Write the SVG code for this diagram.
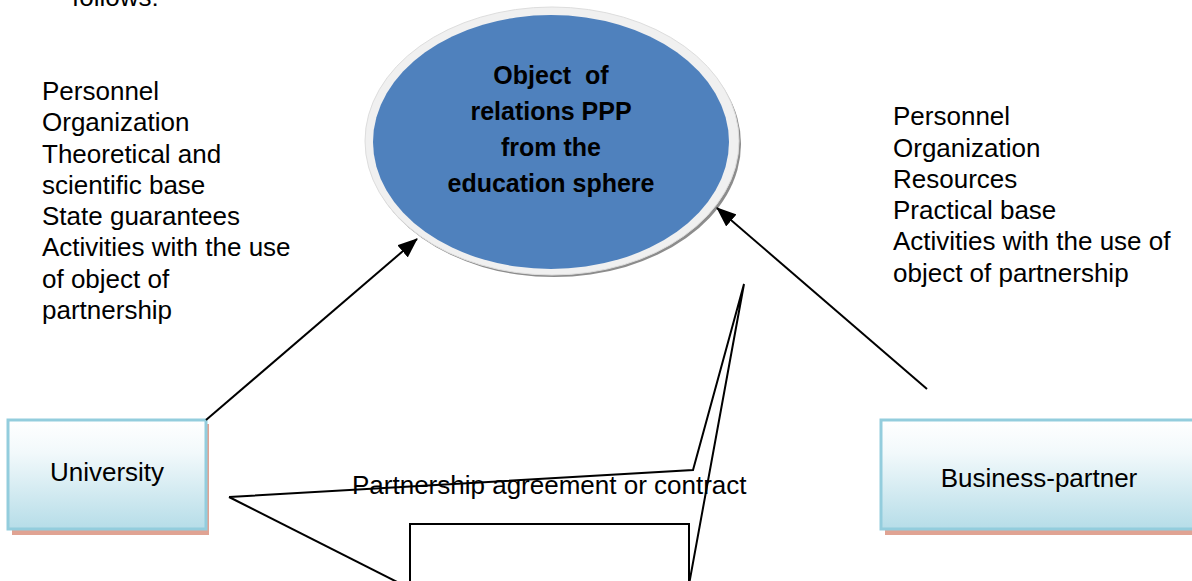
<svg xmlns="http://www.w3.org/2000/svg" width="1192" height="581" viewBox="0 0 1192 581">
<defs>
<linearGradient id="boxg" x1="0" y1="0" x2="0" y2="1">
<stop offset="0" stop-color="#FFFFFF"/>
<stop offset="0.3" stop-color="#F2F9FB"/>
<stop offset="1" stop-color="#B6DDE8"/>
</linearGradient>
<marker id="ah" viewBox="0 0 10 10" refX="9" refY="5" markerWidth="10" markerHeight="10" markerUnits="userSpaceOnUse" orient="auto">
<path d="M0,0 L10,5 L0,10 z" fill="#000"/>
</marker>
<marker id="ahb" viewBox="0 0 20 16" refX="19" refY="8" markerWidth="20" markerHeight="16" markerUnits="userSpaceOnUse" orient="auto">
<path d="M0,0 L20,8 L0,16 z" fill="#000"/>
</marker>
</defs>
<style>
.t{font-family:"Liberation Sans",Arial,sans-serif;font-size:26px;fill:#000}
.b{font-family:"Liberation Sans",Arial,sans-serif;font-size:25px;font-weight:bold;fill:#000}
.box{fill:url(#boxg);stroke:#93CDDD;stroke-width:3}
.sh{fill:#E0A393}
.ln{fill:none;stroke:#000;stroke-width:2}
</style>
<rect width="1192" height="581" fill="#fff"/>
<text class="t" x="72" y="6">follows:</text>

<g id="left-list">
<text class="t" x="42" y="100">Personnel</text>
<text class="t" x="42" y="131">Organization</text>
<text class="t" x="42" y="163">Theoretical and</text>
<text class="t" x="42" y="194">scientific base</text>
<text class="t" x="42" y="225">State guarantees</text>
<text class="t" x="42" y="256">Activities with the use</text>
<text class="t" x="42" y="288">of object of</text>
<text class="t" x="42" y="319">partnership</text>
</g>

<g id="right-list">
<text class="t" x="893" y="125">Personnel</text>
<text class="t" x="893" y="157">Organization</text>
<text class="t" x="893" y="188">Resources</text>
<text class="t" x="893" y="219">Practical base</text>
<text class="t" x="893" y="250">Activities with the use of</text>
<text class="t" x="893" y="282">object of partnership</text>
</g>

<g id="object">
<ellipse cx="554" cy="144" rx="187" ry="133" fill="#8C8C8C"/>
<ellipse cx="552" cy="141" rx="187" ry="134" fill="#F0F0F0" stroke="#DDDDDD" stroke-width="1"/>
<ellipse cx="551" cy="142" rx="178" ry="127" fill="#4F81BD"/>
<text class="b" x="551" y="84" text-anchor="middle" xml:space="preserve">Object  of</text>
<text class="b" x="551" y="120" text-anchor="middle">relations PPP</text>
<text class="b" x="551" y="156" text-anchor="middle">from the</text>
<text class="b" x="551" y="192" text-anchor="middle">education sphere</text>
</g>

<g id="university">
<rect class="sh" x="12" y="424" width="197" height="111"/>
<rect class="box" x="8" y="420" width="198" height="109"/>
<text class="t" x="107" y="481" text-anchor="middle">University</text>
</g>

<g id="business-partner">
<rect class="sh" x="885" y="424" width="320" height="111"/>
<rect class="box" x="881" y="420" width="320" height="109"/>
<text class="t" x="1039" y="487" text-anchor="middle">Business-partner</text>
</g>

<g id="agreement">
<text class="t" x="352" y="494">Partnership agreement or contract</text>
</g>

<g id="connectors">
<line class="ln" x1="206" y1="420" x2="417" y2="239" marker-end="url(#ahb)"/>
<line class="ln" x1="927" y1="389" x2="717" y2="208" marker-end="url(#ahb)"/>
<path class="ln" d="M229,497 L693,470 L744,284 L688,590"/>
<path class="ln" d="M229,497 L413,590"/>
<path class="ln" d="M410,590 V524 H689 V590"/>
</g>
</svg>
